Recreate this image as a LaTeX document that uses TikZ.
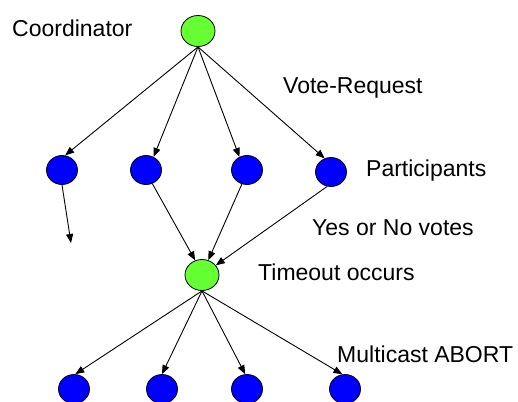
\documentclass[tikz,border=0pt]{standalone}
\usepackage{fontspec}
\setmainfont{Liberation Sans}
\usetikzlibrary{arrows.meta,shapes.geometric}
\definecolor{coordgreen}{RGB}{102,255,51}
\definecolor{partblue}{RGB}{0,0,255}
\tikzset{
  coordnode/.style={ellipse,draw=black,line width=0.8bp,fill=coordgreen,
    minimum width=34bp,minimum height=31bp,inner sep=0pt},
  partnode/.style={ellipse,draw=black,line width=0.8bp,fill=partblue,
    minimum width=31bp,minimum height=29bp,inner sep=0pt},
  msg/.style={line width=0.9bp,-{Triangle[length=9bp,width=7bp]}},
  lbl/.style={anchor=base west,inner sep=0pt,font=\fontsize{23bp}{27bp}\selectfont}
}
\begin{document}
\begin{tikzpicture}[x=1bp,y=-1bp]
\useasboundingbox (0,0) rectangle (518,401);
% coordinator and first round of participants
\node[coordnode] (coord) at (198,31) {};
\node[partnode] (p1) at (62,170) {};
\node[partnode] (p2) at (146,170) {};
\node[partnode] (p3) at (247,170) {};
\node[partnode] (p4) at (331,172) {};
% coordinator after the timeout, and the second round
\node[coordnode] (tout) at (202,275) {};
\node[partnode] (b1) at (74,389) {};
\node[partnode] (b2) at (162,389) {};
\node[partnode] (b3) at (247,389) {};
\node[partnode] (b4) at (345,389) {};
\coordinate (lost) at (71,243);
% labels
\node[lbl] (lcoord) at (12,36) {Coordinator};
\node[lbl] (lvote) at (283,93) {Vote-Request};
\node[lbl] (lpart) at (366,176) {Participants};
\node[lbl] (lyes) at (312,235) {Yes or No votes};
\node[lbl] (ltime) at (258,280) {Timeout occurs};
\node[lbl] (labort) at (337,362) {Multicast ABORT};
% vote requests
\draw[msg] (coord.south) -- (p1.78);
\draw[msg] (coord.south) -- (p2.60);
\draw[msg] (coord.south) -- (p3.120);
\draw[msg] (coord.south) -- (p4.115);
% votes
\draw[msg] (p1.south) -- (lost);
\draw[msg] (p2.295) -- (tout.115);
\draw[msg] (p3.250) -- (tout.67);
\draw[msg] (p4.255) -- (tout.35);
% abort multicast
\draw[msg] (tout.south) -- (b1.85);
\draw[msg] (tout.south) -- (b2.north);
\draw[msg] (tout.south) -- (b3.97);
\draw[msg] (tout.south) -- (b4.100);
\end{tikzpicture}
\end{document}
